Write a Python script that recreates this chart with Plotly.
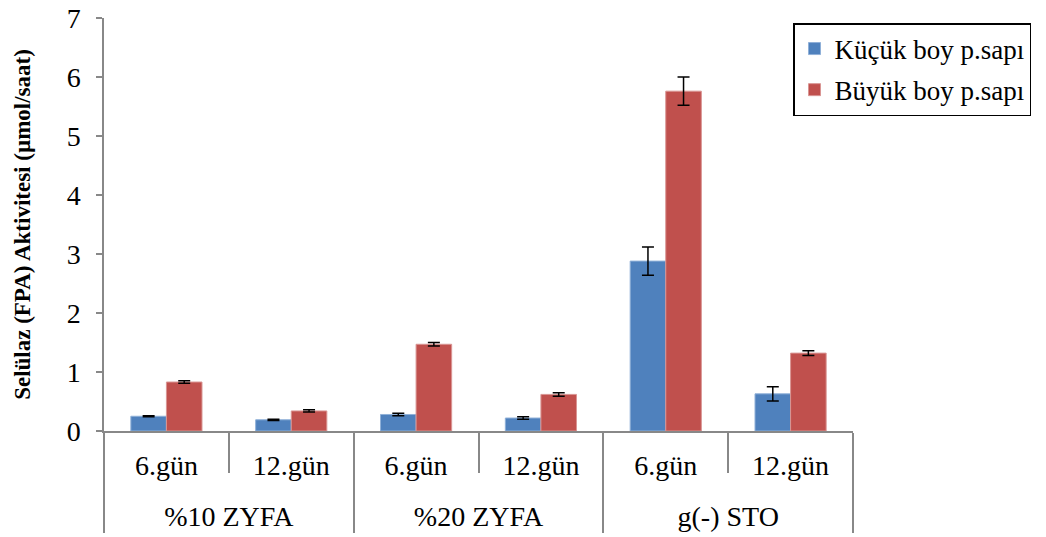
import plotly.graph_objects as go

groups = ["%10 ZYFA", "%10 ZYFA", "%20 ZYFA", "%20 ZYFA", "g(-) STO", "g(-) STO"]
days = ["6.gün", "12.gün", "6.gün", "12.gün", "6.gün", "12.gün"]

kucuk = [0.25, 0.19, 0.28, 0.22, 2.88, 0.63]
kucuk_err = [0.01, 0.01, 0.02, 0.02, 0.24, 0.12]
buyuk = [0.83, 0.34, 1.47, 0.62, 5.76, 1.32]
buyuk_err = [0.02, 0.02, 0.03, 0.03, 0.24, 0.04]

y_ticks = [0, 1, 2, 3, 4, 5, 6, 7]

font_family = "Liberation Serif"

big = "<span style='font-size:28px'>{}</span>"
# outer labels get a blank first line so they sit lower, as in the reference
group_labels = ["<br>" + big.format(g) for g in groups]
day_labels = [big.format(d) for d in days]

fig = go.Figure()
fig.add_trace(go.Bar(
    x=[group_labels, day_labels], y=kucuk, name="Küçük boy p.sapı", legendgroup="a",
    marker=dict(color="#4F81BD", line=dict(color="#8FB0D8", width=1)),
    error_y=dict(type="data", array=kucuk_err, color="black", thickness=1.5, width=6),
))
fig.add_trace(go.Bar(
    x=[group_labels, day_labels], y=buyuk, name="Büyük boy p.sapı", legendgroup="b",
    marker=dict(color="#C0504D", line=dict(color="#D99593", width=1)),
    error_y=dict(type="data", array=buyuk_err, color="black", thickness=1.5, width=6),
))

fig.update_layout(
    width=1046, height=537,
    margin=dict(l=104, r=193, t=18, b=106),
    paper_bgcolor="white", plot_bgcolor="white",
    barmode="group", bargap=0.43, bargroupgap=0,
    font=dict(family=font_family, size=28, color="black"),
    legend=dict(
        x=1.0 + (793 - 853) / 749.0, xanchor="left", y=1.0 - 5 / 413.0, yanchor="top",
        xref="paper", yref="paper",
        bordercolor="black", borderwidth=1.5,
        font=dict(family=font_family, size=27, color="black"),
        bgcolor="white", tracegroupgap=3, itemwidth=30,
    ),
    showlegend=True,
)

fig.update_xaxes(
    type="multicategory", automargin=False,
    showline=True, linecolor="#888888", linewidth=1.5,
    ticks="outside", tickson="boundaries", ticklen=40, tickcolor="#888888", tickwidth=1.5,
    showdividers=True, dividercolor="#888888", dividerwidth=1.5,
    ticklabelstandoff=13,
    tickfont=dict(family=font_family, size=24, color="black"),
    showgrid=False,
)
fig.update_yaxes(
    range=[0, 7], tickvals=y_ticks, ticktext=[str(v) for v in y_ticks],
    automargin=False,
    showline=True, linecolor="#888888", linewidth=1.5,
    ticks="outside", ticklen=6, tickcolor="#888888", tickwidth=1.5,
    ticklabelstandoff=10,
    showgrid=False, zeroline=False,
    tickfont=dict(family=font_family, size=28, color="black"),
    title=dict(text="<b>Selülaz (FPA) Aktivitesi (µmol/saat)</b>",
               font=dict(family=font_family, size=23, color="black"), standoff=30),
)

fig.write_html("out.html")
